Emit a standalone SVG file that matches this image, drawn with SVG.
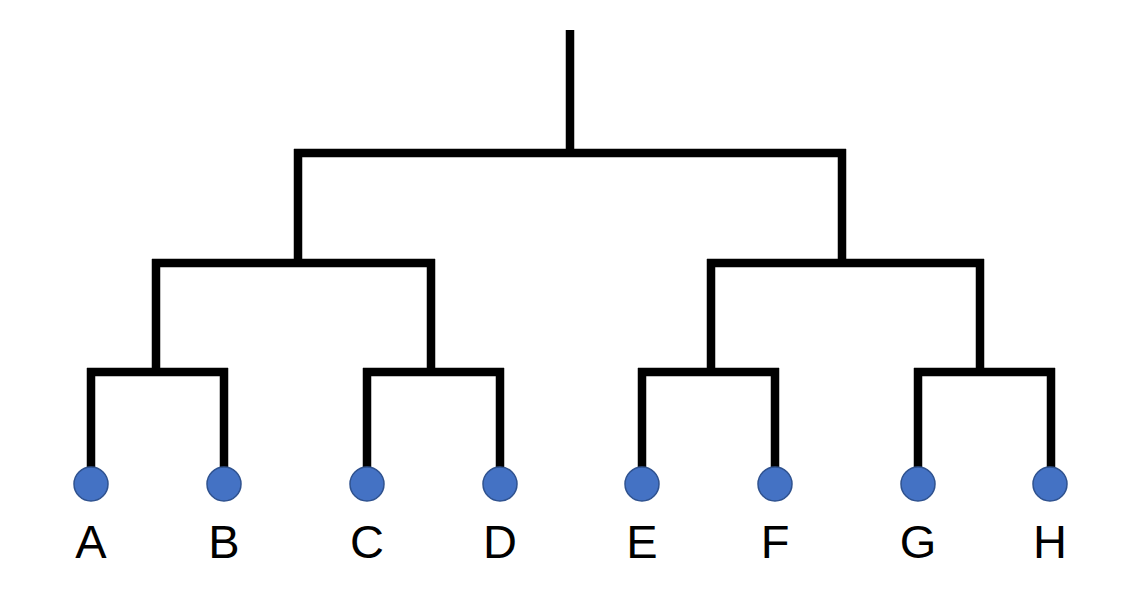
<svg xmlns="http://www.w3.org/2000/svg" width="1135" height="595" viewBox="0 0 1135 595">
<style>
.e{stroke:#000;stroke-width:8.5;fill:none;stroke-linecap:butt}
.n{fill:#4472C4;stroke:#2F528F;stroke-width:1.5}
.t{font-family:"Liberation Sans",Arial,sans-serif;font-size:47px;fill:#000;text-anchor:middle}
</style>
<rect width="1135" height="595" fill="#fff"/>
<g id="connectors">
<path class="e" d="M570 30V153M294 153H846M298 149V263M842 149V263"/>
<path class="e" d="M152 263H435M156 259V372M431 259V372M707 263H984M711 259V372M980 259V372"/>
<path class="e" d="M87 372H228M91 368V470M224 368V470M363 372H504M367 368V470M500 368V470M638 372H779M642 368V470M775 368V470M914 372H1055M918 368V470M1051 368V470"/>
</g>
<g id="A"><circle class="n" cx="91" cy="484" r="17"/><text class="t" x="91" y="558">A</text></g>
<g id="B"><circle class="n" cx="224" cy="484" r="17"/><text class="t" x="224" y="558">B</text></g>
<g id="C"><circle class="n" cx="367" cy="484" r="17"/><text class="t" x="367" y="558">C</text></g>
<g id="D"><circle class="n" cx="500" cy="484" r="17"/><text class="t" x="500" y="558">D</text></g>
<g id="E"><circle class="n" cx="642" cy="484" r="17"/><text class="t" x="642" y="558">E</text></g>
<g id="F"><circle class="n" cx="775" cy="484" r="17"/><text class="t" x="775" y="558">F</text></g>
<g id="G"><circle class="n" cx="918" cy="484" r="17"/><text class="t" x="918" y="558">G</text></g>
<g id="H"><circle class="n" cx="1050" cy="484" r="17"/><text class="t" x="1050" y="558">H</text></g>
</svg>
